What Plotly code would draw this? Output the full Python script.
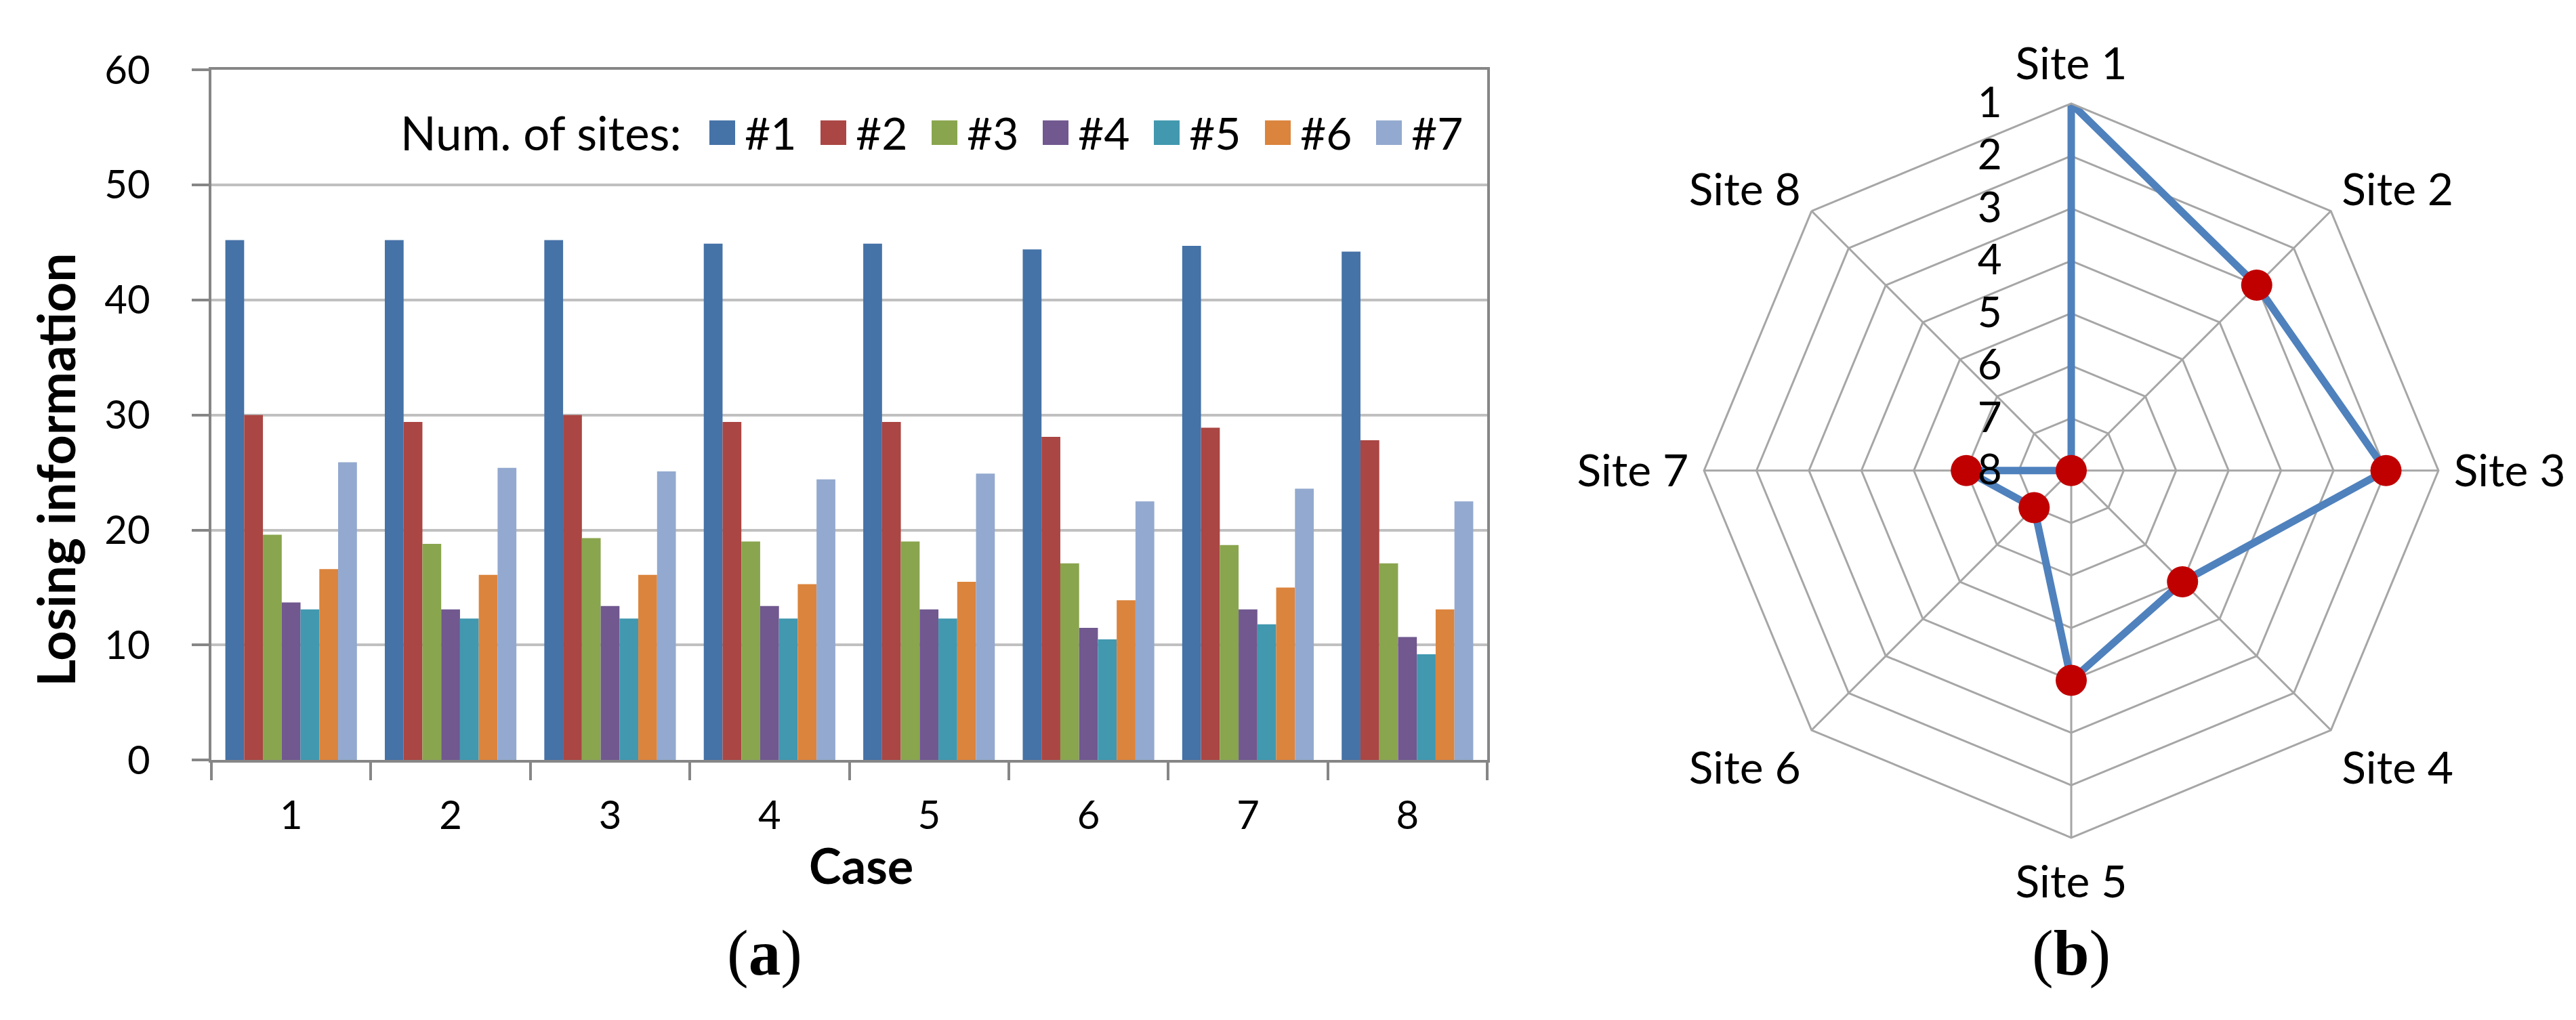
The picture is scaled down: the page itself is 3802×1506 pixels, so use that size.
import plotly.graph_objects as go

# ---------------- data ----------------
cases = ["1", "2", "3", "4", "5", "6", "7", "8"]
series_names = ["#1", "#2", "#3", "#4", "#5", "#6", "#7"]
s1 = [45.2, 45.2, 45.2, 44.9, 44.9, 44.4, 44.7, 44.2]
s2 = [30.0, 29.4, 30.0, 29.4, 29.4, 28.1, 28.9, 27.8]
s3 = [19.6, 18.8, 19.3, 19.0, 19.0, 17.1, 18.7, 17.1]
s4 = [13.7, 13.1, 13.4, 13.4, 13.1, 11.5, 13.1, 10.7]
s5 = [13.1, 12.3, 12.3, 12.3, 12.3, 10.5, 11.8, 9.2]
s6 = [16.6, 16.1, 16.1, 15.3, 15.5, 13.9, 15.0, 13.1]
s7 = [25.9, 25.4, 25.1, 24.4, 24.9, 22.5, 23.6, 22.5]
series_values = [s1, s2, s3, s4, s5, s6, s7]
y_ticks = [0, 10, 20, 30, 40, 50, 60]

sites = ["Site 1", "Site 2", "Site 3", "Site 4", "Site 5", "Site 6", "Site 7", "Site 8"]
site_rank = [1, 3, 2, 5, 4, 7, 6, 8]
radial_ticks = [1, 2, 3, 4, 5, 6, 7, 8]

# ---------------- style ----------------
colors = ["#4572A7", "#AA4643", "#89A54E", "#71588F", "#4198AF", "#DB843D", "#93A9CF"]
W, H = 3802, 1506
FONT = "Lato"
FS_NUM = 58
FS_TXT = 66
AXIS_GRAY = "#868686"
GRID_GRAY = "#C0C0C0"
RADAR_GRID = "#A6A6A6"


def px(x):
    return x / W


def py(y):
    return 1 - y / H


fig = go.Figure()

for name, vals, col in zip(series_names, series_values, colors):
    fig.add_trace(go.Bar(x=cases, y=vals, name=name, marker=dict(color=col, line=dict(width=0)),
                         showlegend=False, xaxis="x", yaxis="y"))

# radar (closed loop)
fig.add_trace(go.Scatterpolar(
    r=site_rank + site_rank[:1], theta=sites + sites[:1],
    mode="lines+markers",
    line=dict(color="#4F81BD", width=11),
    marker=dict(color="#C00000", size=46),
    showlegend=False, subplot="polar"))

annotations = []
shapes = []

# manual legend (large swatches like the original)
annotations.append(dict(text="Num. of sites:", x=px(1000), y=py(158), xref="paper", yref="paper",
                        xanchor="right", yanchor="middle", showarrow=False,
                        font=dict(family=FONT, size=69, color="black")))
for i, (name, col) in enumerate(zip(series_names, colors)):
    x0 = 1039 + i * 164
    shapes.append(dict(type="rect", xref="paper", yref="paper", x0=px(x0), x1=px(x0 + 38),
                       y0=py(177), y1=py(139), fillcolor=col, line=dict(width=0)))
    annotations.append(dict(text=name, x=px(x0 + 50), y=py(158), xref="paper", yref="paper",
                            xanchor="left", yanchor="middle", showarrow=False,
                            font=dict(family=FONT, size=FS_TXT, color="black")))

# axis titles
annotations.append(dict(text="<b>Losing information</b>", x=px(73), y=py(680), xref="paper", yref="paper",
                        textangle=-90, showarrow=False, xanchor="center", yanchor="middle",
                        font=dict(family=FONT, size=77, color="black")))
annotations.append(dict(text="<b>Case</b>", x=px(1263), y=py(1291), xref="paper", yref="paper",
                        showarrow=False, xanchor="center", yanchor="middle",
                        font=dict(family=FONT, size=72, color="black")))
# panel labels
annotations.append(dict(text="(<b>a</b>)", x=px(1120), y=py(1427), xref="paper", yref="paper",
                        showarrow=False, xanchor="center", yanchor="middle",
                        font=dict(family="Liberation Serif", size=95, color="black")))
annotations.append(dict(text="(<b>b</b>)", x=px(3049), y=py(1427), xref="paper", yref="paper",
                        showarrow=False, xanchor="center", yanchor="middle",
                        font=dict(family="Liberation Serif", size=95, color="black")))

fig.update_layout(
    width=W, height=H,
    margin=dict(l=0, r=0, t=0, b=0),
    paper_bgcolor="white", plot_bgcolor="white",
    barmode="group", bargap=0.175, bargroupgap=0,
    font=dict(family=FONT, size=FS_NUM, color="black"),
    xaxis=dict(domain=[px(304), px(2187)], type="category", showgrid=False,
               showline=True, linecolor=AXIS_GRAY, linewidth=3.5, mirror=True,
               ticks="outside", tickson="boundaries", ticklen=26, tickwidth=3.5, tickcolor=AXIS_GRAY,
               tickfont=dict(family=FONT, size=FS_NUM, color="black"), ticklabelstandoff=28),
    yaxis=dict(domain=[py(1129), py(61)], range=[0, 60], tickvals=y_ticks,
               showgrid=True, gridcolor=GRID_GRAY, gridwidth=3.5, zeroline=False,
               showline=True, linecolor=AXIS_GRAY, linewidth=3.5, mirror=True,
               ticks="outside", ticklen=25, tickwidth=3.5, tickcolor=AXIS_GRAY,
               tickfont=dict(family=FONT, size=FS_NUM, color="black"), ticklabelstandoff=50),
    polar=dict(
        domain=dict(x=[px(2481), px(3617)], y=[py(1249), py(113)]),
        bgcolor="white",
        gridshape="linear",
        angularaxis=dict(direction="clockwise", rotation=90, categoryorder="array", categoryarray=sites,
                         showline=True, linecolor=RADAR_GRID, linewidth=3,
                         gridcolor=RADAR_GRID, gridwidth=3,
                         ticks="outside", ticklen=8, tickcolor="rgba(0,0,0,0)",
                         tickfont=dict(family=FONT, size=FS_TXT, color="black")),
        radialaxis=dict(range=[8, 1], tickvals=radial_ticks, angle=90, side="counterclockwise",
                        tickangle=90, showline=False,
                        ticks="outside", ticklen=80, tickcolor="rgba(0,0,0,0)",
                        gridcolor=RADAR_GRID, gridwidth=3,
                        tickfont=dict(family=FONT, size=62, color="black")),
    ),
    annotations=annotations,
    shapes=shapes,
)

fig.write_html("out.html")
